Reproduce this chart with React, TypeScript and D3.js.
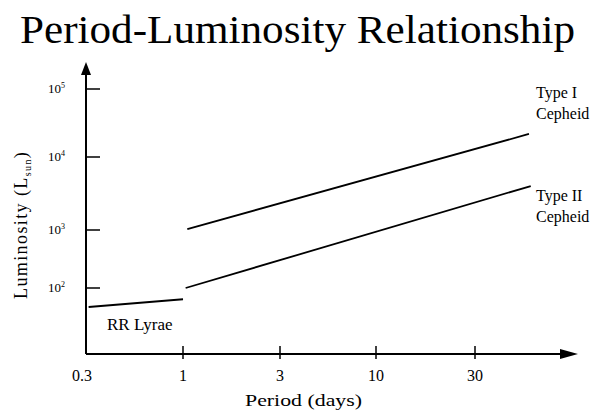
import React from "react";
import * as d3 from "d3";

const periodTicks = [0.3, 1, 3, 10, 30];
const periodTickLabels = ["0.3", "1", "3", "10", "30"];
const lumTicks = [100, 1000, 10000, 100000];
const lumTickExps = ["2", "3", "4", "5"];

const rrLyrae = [
  { p: 0.31, l: 47 },
  { p: 1.0, l: 64 },
];
const typeI = [
  { p: 1.05, l: 1030 },
  { p: 54.6, l: 21800 },
];
const typeII = [
  { p: 1.03, l: 100 },
  { p: 55.7, l: 4000 },
];

const W = 597;
const H = 412;
const FONT = '"Liberation Serif", "Times New Roman", serif';

export default function App() {
  const x = d3.scaleLog().domain(periodTicks).range([86, 183, 280, 376, 475]);
  const y = d3.scaleLog().domain(lumTicks).range([288, 230, 157, 89]);
  const line = d3
    .line<{ p: number; l: number }>()
    .x((d) => x(d.p))
    .y((d) => y(d.l));

  const axX = 86;
  const axY = 354;
  const ts = { fontFamily: FONT };

  return (
    <svg
      width={W}
      height={H}
      style={{ position: "absolute", left: 0, top: 0, background: "#fff", fontFamily: FONT }}
    >
      <text x={20} y={43} fontSize={39} fill="#000" style={ts} textLength={555} lengthAdjust="spacingAndGlyphs">
        Period-Luminosity Relationship
      </text>

      {/* axes */}
      <line x1={axX} y1={axY} x2={axX} y2={70} stroke="#000" strokeWidth={2} />
      <path d={`M${axX - 5},${75} L${axX},${62} L${axX + 5},${75} Z`} fill="#000" />
      <line x1={axX} y1={axY} x2={565} y2={axY} stroke="#000" strokeWidth={2} />
      <path d={`M${560},${axY - 5} L${578},${axY} L${560},${axY + 5} Z`} fill="#000" />

      {/* y ticks */}
      {lumTicks.map((t, i) => (
        <g key={t}>
          <line x1={axX} x2={axX + 14} y1={y(t)} y2={y(t)} stroke="#000" strokeWidth={1.5} />
          <text x={48} y={y(t) + 4} fontSize={13} fill="#000" style={ts}>
            10
            <tspan fontSize={8} dy={-5}>{lumTickExps[i]}</tspan>
          </text>
        </g>
      ))}

      {/* x ticks */}
      {periodTicks.map((t, i) => (
        <g key={t}>
          {i > 0 && (
            <line x1={x(t)} x2={x(t)} y1={axY - 8} y2={axY + 5} stroke="#000" strokeWidth={1.5} />
          )}
          <text x={x(t) + (i === 0 ? -14 : 0)} y={381} fontSize={16} textAnchor={i === 0 ? "start" : "middle"} fill="#000" style={ts}>
            {periodTickLabels[i]}
          </text>
        </g>
      ))}

      {/* axis titles */}
      <text x={245} y={406} fontSize={17} fill="#000" style={ts} textLength={117} lengthAdjust="spacingAndGlyphs">
        Period (days)
      </text>
      <text transform="translate(27,299) rotate(-90)" fontSize={18} fill="#000" style={{ ...ts, letterSpacing: "1.4px" }}>
        Luminosity (L
        <tspan fontSize={10} dy={4}>sun</tspan>
        <tspan dy={-4}>)</tspan>
      </text>

      {/* series */}
      <path d={line(rrLyrae) || ""} stroke="#000" strokeWidth={1.8} fill="none" />
      <path d={line(typeI) || ""} stroke="#000" strokeWidth={1.8} fill="none" />
      <path d={line(typeII) || ""} stroke="#000" strokeWidth={1.8} fill="none" />

      {/* labels */}
      <text x={107} y={330} fontSize={17} fill="#000" style={ts}>RR Lyrae</text>
      <text x={536} y={98} fontSize={16} fill="#000" style={ts}>Type I</text>
      <text x={536} y={119} fontSize={16} fill="#000" style={ts}>Cepheid</text>
      <text x={536} y={201} fontSize={16} fill="#000" style={ts}>Type II</text>
      <text x={536} y={222} fontSize={16} fill="#000" style={ts}>Cepheid</text>
    </svg>
  );
}
